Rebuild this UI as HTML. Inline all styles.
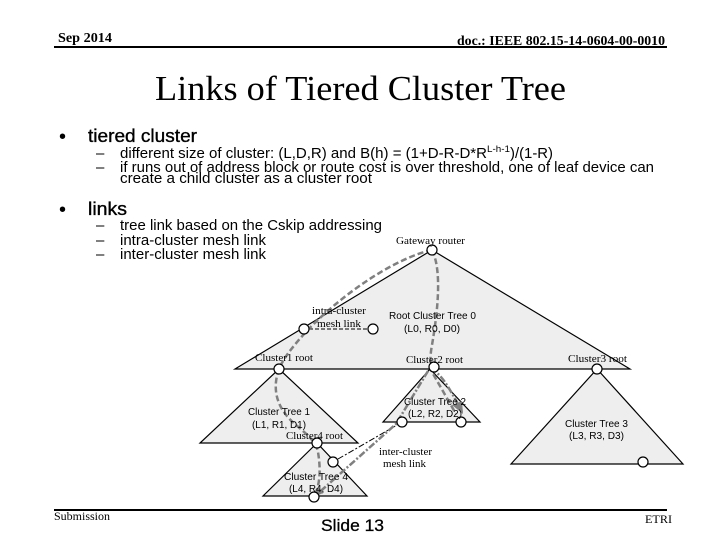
<!DOCTYPE html>
<html><head><meta charset="utf-8"><style>
html,body{margin:0;padding:0;background:#fff}
svg{display:block}
.s{font-family:"Liberation Serif",serif;fill:#000}
.a{font-family:"Liberation Sans",sans-serif;fill:#000}
.sub{font-size:15px}
.lbl{font-size:11px}
.sm{font-size:10px}
</style></head><body>
<svg width="720" height="540" viewBox="0 0 720 540" xmlns="http://www.w3.org/2000/svg">
<rect width="720" height="540" fill="#fff"/>
<text class="s" x="58" y="42" font-size="14" font-weight="bold" textLength="54" lengthAdjust="spacingAndGlyphs">Sep 2014</text>
<text class="s" x="457" y="45" font-size="14" font-weight="bold" textLength="208" lengthAdjust="spacingAndGlyphs">doc.: IEEE 802.15-14-0604-00-0010</text>
<rect x="54" y="46" width="613" height="2" fill="#000"/>
<text class="s" x="155" y="100" font-size="35" textLength="411" lengthAdjust="spacingAndGlyphs">Links of Tiered Cluster Tree</text>

<text class="a" x="59" y="143" font-size="20">•</text>
<text class="a" x="88" y="142" font-size="18" stroke="#000" stroke-width="0.35" textLength="109" lengthAdjust="spacingAndGlyphs">tiered cluster</text>
<text class="a sub" x="96" y="158">–</text>
<text class="a sub" x="120" y="158" textLength="367" lengthAdjust="spacingAndGlyphs">different size of cluster: (L,D,R) and B(h) = (1+D-R-D*R</text>
<text class="a" x="487" y="152" font-size="9" textLength="23" lengthAdjust="spacingAndGlyphs">L-h-1</text>
<text class="a sub" x="510" y="158" textLength="43" lengthAdjust="spacingAndGlyphs">)/(1-R)</text>
<text class="a sub" x="96" y="172">–</text>
<text class="a sub" x="120" y="172" textLength="534" lengthAdjust="spacingAndGlyphs">if runs out of address block or route cost is over threshold, one of leaf device can</text>
<text class="a sub" x="120" y="183" textLength="252" lengthAdjust="spacingAndGlyphs">create a child cluster  as a cluster root</text>

<text class="a" x="59" y="216" font-size="20">•</text>
<text class="a" x="88" y="215" font-size="18" stroke="#000" stroke-width="0.35" textLength="39" lengthAdjust="spacingAndGlyphs">links</text>
<text class="a sub" x="96" y="230">–</text>
<text class="a sub" x="120" y="230" textLength="262" lengthAdjust="spacingAndGlyphs">tree link based on the Cskip addressing</text>
<text class="a sub" x="96" y="245">–</text>
<text class="a sub" x="120" y="245" textLength="146" lengthAdjust="spacingAndGlyphs">intra-cluster mesh link</text>
<text class="a sub" x="96" y="259">–</text>
<text class="a sub" x="120" y="259" textLength="146" lengthAdjust="spacingAndGlyphs">inter-cluster mesh link</text>

<g stroke="#000" stroke-width="1.2" fill="#eeeeee">
<polygon points="432,250 235,369 630,369"/>
<polygon points="279,369 200,443 358,443"/>
<polygon points="430,369 383,422 480,422"/>
<polygon points="597,369 511,464 683,464"/>
<polygon points="317,443 263,496 367,496"/>
</g>

<g fill="none" stroke="#000" stroke-width="1">
<path d="M309,329H368" stroke-dasharray="4 2"/>
<path d="M338,459L397,425" stroke-dasharray="6 2 2 2"/>
</g>
<g fill="none" stroke="#808080" stroke-width="2.5">
<path d="M432,250C395,258 340,295 304,334C290,350 282,360 278,372C272,392 278,410 296,425C308,435 316,442 318,452C321,470 320,485 314,497" stroke-dasharray="6 3"/>
<path d="M432,250C442,270 438,310 432,345C430,355 430,365 432,372L456,414" stroke-dasharray="6 3"/>
<path d="M428,371L396,424L314,497" stroke-dasharray="7 2 2 2"/>
<path d="M430,369C440,372 448,385 462,412" stroke-dasharray="7 2 2 2"/>
</g>
<polygon points="463,414 452,405 462,401" fill="#808080"/>
<polygon points="312,498 318,487 323,493" fill="#808080"/>

<g fill="#fff" stroke="#000" stroke-width="1.2">
<circle cx="432" cy="250" r="5"/>
<circle cx="304" cy="329" r="5"/>
<circle cx="373" cy="329" r="5"/>
<circle cx="279" cy="369" r="5"/>
<circle cx="434" cy="367" r="5"/>
<circle cx="597" cy="369" r="5"/>
<circle cx="317" cy="443" r="5"/>
<circle cx="333" cy="462" r="5"/>
<circle cx="314" cy="497" r="5"/>
<circle cx="402" cy="422" r="5"/>
<circle cx="461" cy="422" r="5"/>
<circle cx="643" cy="462" r="5"/>
</g>

<text class="s lbl" x="396" y="244" textLength="69" lengthAdjust="spacingAndGlyphs">Gateway router</text>
<text class="s lbl" x="312" y="314" textLength="54" lengthAdjust="spacingAndGlyphs">intra-cluster</text>
<text class="s lbl" x="317" y="327" textLength="44" lengthAdjust="spacingAndGlyphs">mesh link</text>
<text class="a sm" x="389" y="319" textLength="87" lengthAdjust="spacingAndGlyphs">Root Cluster Tree 0</text>
<text class="a sm" x="404" y="332" textLength="56" lengthAdjust="spacingAndGlyphs">(L0, R0, D0)</text>
<text class="s lbl" x="255" y="361" textLength="58" lengthAdjust="spacingAndGlyphs">Cluster1 root</text>
<text class="s lbl" x="406" y="363" textLength="57" lengthAdjust="spacingAndGlyphs">Cluster2 root</text>
<text class="s lbl" x="568" y="362" textLength="59" lengthAdjust="spacingAndGlyphs">Cluster3 root</text>
<text class="a sm" x="248" y="415" textLength="62" lengthAdjust="spacingAndGlyphs">Cluster Tree 1</text>
<text class="a sm" x="252" y="428" textLength="54" lengthAdjust="spacingAndGlyphs">(L1, R1, D1)</text>
<text class="s lbl" x="286" y="439" textLength="57" lengthAdjust="spacingAndGlyphs">Cluster4 root</text>
<text class="a sm" x="404" y="405" textLength="62" lengthAdjust="spacingAndGlyphs">Cluster Tree 2</text>
<text class="a sm" x="408" y="417" textLength="54" lengthAdjust="spacingAndGlyphs">(L2, R2, D2)</text>
<text class="a sm" x="565" y="427" textLength="63" lengthAdjust="spacingAndGlyphs">Cluster Tree 3</text>
<text class="a sm" x="569" y="439" textLength="55" lengthAdjust="spacingAndGlyphs">(L3, R3, D3)</text>
<text class="s lbl" x="379" y="455" textLength="53" lengthAdjust="spacingAndGlyphs">inter-cluster</text>
<text class="s lbl" x="383" y="467" textLength="43" lengthAdjust="spacingAndGlyphs">mesh link</text>
<text class="a sm" x="284" y="480" textLength="64" lengthAdjust="spacingAndGlyphs">Cluster Tree 4</text>
<text class="a sm" x="289" y="492" textLength="54" lengthAdjust="spacingAndGlyphs">(L4, R4, D4)</text>

<rect x="54" y="509" width="613" height="2" fill="#000"/>
<text class="s" x="54" y="520" font-size="12" textLength="56" lengthAdjust="spacingAndGlyphs">Submission</text>
<text class="a" x="321" y="531" font-size="17" stroke="#000" stroke-width="0.3" textLength="63" lengthAdjust="spacingAndGlyphs">Slide 13</text>
<text class="s" x="645" y="523" font-size="12" textLength="27" lengthAdjust="spacingAndGlyphs">ETRI</text>
</svg>
</body></html>
